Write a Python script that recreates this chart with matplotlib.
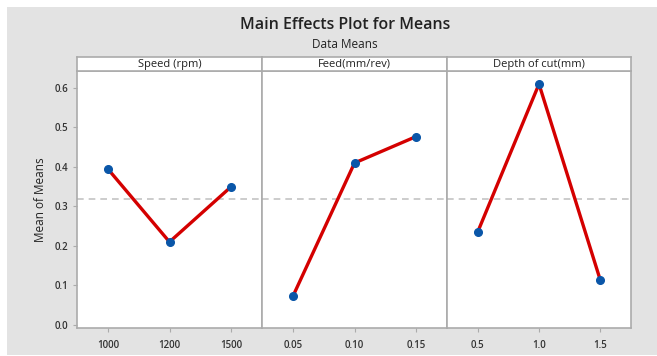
import matplotlib.pyplot as plt
from matplotlib.patches import Rectangle

# datos
factores = ["Speed (rpm)", "Feed(mm/rev)", "Depth of cut(mm)"]
niveles = [["1000", "1200", "1500"], ["0.05", "0.10", "0.15"], ["0.5", "1.0", "1.5"]]
medias_speed = [0.395, 0.210, 0.350]
medias_feed = [0.072, 0.410, 0.477]
medias_depth = [0.235, 0.610, 0.113]
media_global = 0.319
yticks = [0.0, 0.1, 0.2, 0.3, 0.4, 0.5, 0.6]

medias = [medias_speed, medias_feed, medias_depth]

W, H = 657, 356
plt.rcParams["font.family"] = ["Open Sans", "DejaVu Sans"]
fig = plt.figure(figsize=(W / 100, H / 100), dpi=100)
fig.patch.set_facecolor("white")

# fondo gris tipo Minitab
fig.patches.append(Rectangle((7 / W, 1 - 355 / H), 650 / W, 348 / H,
                             transform=fig.transFigure, facecolor="#e3e3e3",
                             edgecolor="none", zorder=-10))

fig.text(345 / W, 1 - 25 / H, "Main Effects Plot for Means", ha="center",
         va="center", fontsize=11.5, fontweight="semibold", color="#222222")
fig.text(345 / W, 1 - 44 / H, "Data Means", ha="center", va="center",
         fontsize=8.5, fontweight="medium", color="#222222")

bordes = [77, 262, 447, 631]
y_top, y_bot, strip_top = 71, 328, 57
gris = "#ababab"

for i in range(3):
    x0, x1 = bordes[i], bordes[i + 1]
    ax = fig.add_axes([x0 / W, 1 - y_bot / H, (x1 - x0) / W, (y_bot - y_top) / H])
    ax.set_facecolor("white")
    xs = [1, 2, 3]
    ax.axhline(media_global, color="#c4c4c4", ls=(0, (4, 3)), lw=1.2, zorder=1)
    ax.plot(xs, medias[i], color="#d40000", lw=2.4, zorder=2)
    ax.plot(xs, medias[i], "o", color="#0a56a8", ms=5.5, zorder=3)
    ax.set_xlim(0.5, 3.5)
    ax.set_ylim(-0.008, 0.643)
    ax.set_xticks(xs)
    ax.set_xticklabels(niveles[i], fontsize=7, color="#333333", fontweight="semibold")
    ax.tick_params(axis="x", length=3, color=gris, pad=6)
    if i == 0:
        ax.set_yticks(yticks)
        ax.set_yticklabels([f"{v:.1f}" for v in yticks], fontsize=7,
                           color="#333333", fontweight="semibold")
        ax.tick_params(axis="y", length=3, color=gris)
    else:
        ax.set_yticks([])
    for s in ax.spines.values():
        s.set_color(gris)
        s.set_linewidth(1.2)
    # tira del titulo del panel
    sax = fig.add_axes([x0 / W, 1 - y_top / H, (x1 - x0) / W, (y_top - strip_top) / H])
    sax.set_facecolor("white")
    sax.set_xticks([])
    sax.set_yticks([])
    for s in sax.spines.values():
        s.set_color(gris)
        s.set_linewidth(1.2)
    sax.text(0.5, 0.5, factores[i], ha="center", va="center", fontsize=8,
             color="#222222", fontweight="medium", transform=sax.transAxes)

fig.text(41 / W, 1 - 200 / H, "Mean of Means", rotation=90, ha="center",
         va="center", fontsize=8.5, color="#222222")

fig.savefig("out.png", dpi=100)
